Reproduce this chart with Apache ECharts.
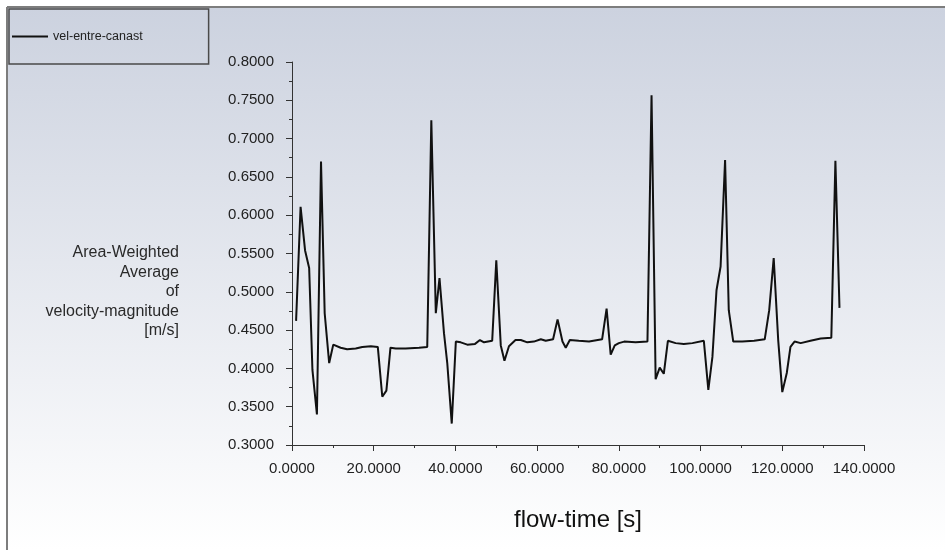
<!DOCTYPE html>
<html>
<head>
<meta charset="utf-8">
<script src="https://cdn.jsdelivr.net/npm/echarts@6/dist/echarts.min.js"></script>
<style>
  html, body { margin: 0; padding: 0; background: #ffffff; }
  #chart { width: 945px; height: 550px; }
</style>
</head>
<body>
<div id="chart"></div>
<script>
// Monitored quantity: area-weighted average of velocity magnitude over flow time
const seriesName = 'vel-entre-canast';
const flowTime = [
  1.0, 2.1, 3.2, 4.2, 5.0, 6.1, 7.1, 8.0, 9.1, 10.1, 11.9, 13.5, 15.6, 17.2, 19.3, 21.0,
  22.1, 23.1, 24.1, 25.4, 27.8, 31.1, 33.1, 34.1, 35.2, 36.1, 37.2, 38.0, 39.1, 40.1,
  41.3, 42.9, 44.8, 46.0, 47.0, 49.0, 50.0, 51.1, 52.0, 53.1, 54.7, 56.0, 57.6, 59.2,
  60.9, 62.1, 63.9, 65.0, 66.2, 67.0, 68.0, 70.2, 72.7, 75.9, 77.0, 78.0, 79.0, 80.0,
  81.3, 84.1, 87.0, 88.0, 89.0, 90.0, 91.0, 92.0, 93.9, 95.9, 98.0, 100.8, 101.9, 102.9,
  103.9, 104.9, 106.0, 106.9, 108.0, 110.2, 113.1, 115.7, 116.8, 117.9, 119.0, 120.0,
  121.1, 122.0, 123.0, 124.5, 126.9, 129.4, 132.0, 133.0, 134.0
];
const velocity = [
  0.462, 0.611, 0.554, 0.531, 0.398, 0.340, 0.670, 0.472, 0.407, 0.431, 0.427, 0.425, 0.426, 0.428, 0.429, 0.428,
  0.363, 0.371, 0.427, 0.426, 0.426, 0.427, 0.428, 0.724, 0.472, 0.518, 0.446, 0.407, 0.328, 0.435,
  0.434, 0.431, 0.432, 0.437, 0.434, 0.436, 0.541, 0.430, 0.410, 0.429, 0.437, 0.437, 0.434, 0.435,
  0.438, 0.436, 0.438, 0.464, 0.435, 0.427, 0.437, 0.436, 0.435, 0.438, 0.478, 0.418, 0.430, 0.433,
  0.435, 0.434, 0.435, 0.7565, 0.386, 0.401, 0.393, 0.436, 0.433, 0.432, 0.433, 0.436, 0.372, 0.415,
  0.502, 0.533, 0.672, 0.476, 0.435, 0.435, 0.436, 0.438, 0.476, 0.544, 0.437, 0.369,
  0.394, 0.428, 0.435, 0.433, 0.436, 0.439, 0.440, 0.671, 0.479
];
const xTitle = 'flow-time [s]';
const yTitleLines = ['Area-Weighted', 'Average', 'of', 'velocity-magnitude', '[m/s]'];

const FONT = '"Liberation Sans", Arial, sans-serif';
const chart = echarts.init(document.getElementById('chart'), null, { renderer: 'canvas' });

const points = flowTime.map((t, i) => [t, velocity[i]]);

chart.setOption({
  animation: false,
  backgroundColor: '#ffffff',
  graphic: [
    {
      type: 'rect', z: -10, silent: true,
      shape: { x: 8, y: 8, width: 937, height: 542 },
      style: {
        fill: new echarts.graphic.LinearGradient(0, 0, 0, 1, [
          { offset: 0, color: '#ccd2df' },
          { offset: 1, color: '#ffffff' }
        ])
      }
    },
    { type: 'line', z: -5, silent: true, shape: { x1: 7, y1: 7, x2: 945, y2: 7 }, style: { stroke: '#7d7d7d', lineWidth: 2 } },
    { type: 'line', z: -5, silent: true, shape: { x1: 7, y1: 7, x2: 7, y2: 550 }, style: { stroke: '#7d7d7d', lineWidth: 2 } },
    {
      type: 'text', silent: true,
      style: {
        x: 179, y: 292,
        text: yTitleLines.join('\n'),
        align: 'right', verticalAlign: 'middle',
        font: '16px ' + FONT, lineHeight: 19.5,
        fill: '#2a2a2a'
      }
    }
  ],
  legend: {
    left: 9, top: 9,
    padding: [21, 66, 21, 3],
    borderColor: '#4a4a4a', borderWidth: 1.5,
    icon: 'rect', itemWidth: 36, itemHeight: 2, itemGap: 4,
    textStyle: { fontFamily: FONT, fontSize: 12.5, color: '#222' },
    data: [{ name: seriesName, itemStyle: { color: '#111' } }]
  },
  grid: { left: 292, right: 81, top: 62, bottom: 105, containLabel: false },
  xAxis: {
    type: 'value', min: 0, max: 140, interval: 20,
    name: xTitle, nameLocation: 'middle', nameGap: 63,
    nameTextStyle: { fontFamily: FONT, fontSize: 24, color: '#111' },
    axisLine: { show: true, lineStyle: { color: '#333', width: 1 } },
    axisTick: { show: true, inside: false, length: 6, lineStyle: { color: '#333' } },
    minorTick: { show: true, splitNumber: 2, length: 3, lineStyle: { color: '#333' } },
    splitLine: { show: false },
    axisLabel: {
      margin: 16, fontFamily: FONT, fontSize: 15, color: '#222',
      formatter: v => v.toFixed(4)
    }
  },
  yAxis: {
    type: 'value', min: 0.3, max: 0.8, interval: 0.05,
    axisLine: { show: true, lineStyle: { color: '#333', width: 1 } },
    axisTick: { show: true, inside: false, length: 6, lineStyle: { color: '#333' } },
    minorTick: { show: true, splitNumber: 2, length: 3, lineStyle: { color: '#333' } },
    splitLine: { show: false },
    axisLabel: {
      margin: 18, fontFamily: FONT, fontSize: 15, color: '#222',
      formatter: v => v.toFixed(4)
    }
  },
  series: [{
    name: seriesName,
    type: 'line',
    data: points,
    showSymbol: false,
    symbol: 'none',
    lineStyle: { color: '#111', width: 2 },
    itemStyle: { color: '#111' }
  }]
});
</script>
</body>
</html>
